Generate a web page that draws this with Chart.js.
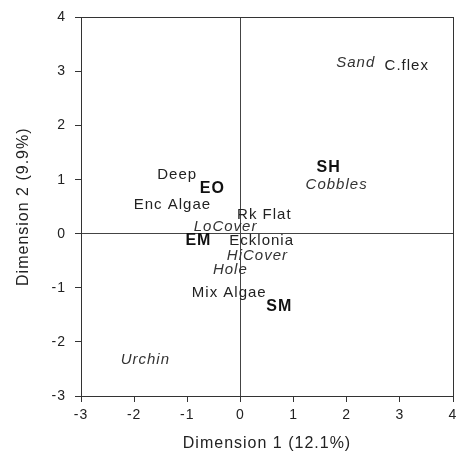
<!DOCTYPE html>
<html>
<head>
<meta charset="utf-8">
<script src="https://cdn.jsdelivr.net/npm/chart.js@4"></script>
<style>
  body { margin: 0; background: #fff; }
  #wrap { width: 457px; height: 455px; }
</style>
</head>
<body>
<div id="wrap"><canvas id="myChart" width="457" height="455"></canvas></div>
<script>
// sites (bold)
const siteLabels = ["EO", "EM", "SH", "SM"];
const siteX = [-0.53, -0.79, 1.66, 0.73];
const siteY = [0.83, -0.13, 1.23, -1.34];

// habitat variables (italic)
const habitatLabels = ["Sand", "Cobbles", "LoCover", "HiCover", "Hole", "Urchin"];
const habitatX = [2.17, 1.81, -0.28, 0.32, -0.19, -1.79];
const habitatY = [3.16, 0.90, 0.13, -0.40, -0.66, -2.33];

// other variables (plain)
const otherLabels = ["C.flex", "Deep", "Enc Algae", "Rk Flat", "Ecklonia", "Mix Algae"];
const otherX = [3.13, -1.19, -1.28, 0.45, 0.40, -0.21];
const otherY = [3.11, 1.08, 0.53, 0.35, -0.13, -1.10];

const axisMin = -3;
const axisMax = 4;

const FONT = "'Liberation Sans', Arial, Helvetica, sans-serif";
const INK = "#222";

const toPoints = (xs, ys) => xs.map((x, i) => ({ x: x, y: ys[i] }));

// draw each point as its text label
const textLabels = {
  id: "textLabels",
  afterDatasetsDraw(chart) {
    const ctx = chart.ctx;
    ctx.save();
    ctx.textAlign = "center";
    ctx.textBaseline = "middle";
    chart.data.datasets.forEach((ds, i) => {
      const meta = chart.getDatasetMeta(i);
      ctx.font = ds.labelFont;
      ctx.fillStyle = ds.labelColor;
      meta.data.forEach((pt, j) => {
        ctx.fillText(ds.names[j], pt.x, pt.y);
      });
    });
    ctx.restore();
  }
};

// frame around the plot and slightly wider lettering
const frame = {
  id: "frame",
  beforeDraw(chart) {
    chart.ctx.letterSpacing = "1px";
  },
  afterDraw(chart) {
    const a = chart.chartArea;
    const ctx = chart.ctx;
    ctx.save();
    ctx.strokeStyle = "#333";
    ctx.lineWidth = 1;
    ctx.strokeRect(Math.round(a.left) + 0.5, Math.round(a.top) + 0.5,
      Math.round(a.right - a.left), Math.round(a.bottom - a.top));
    ctx.restore();
  }
};

const axisGrid = {
  drawOnChartArea: true,
  drawTicks: true,
  tickLength: 6,
  tickColor: "#333",
  color: (c) => (c.tick && c.tick.value === 0 ? "#444" : "rgba(0,0,0,0)"),
  lineWidth: 1
};

const ctx = document.getElementById("myChart").getContext("2d");
const myChart = new Chart(ctx, {
  type: "scatter",
  data: {
    datasets: [
      {
        names: siteLabels,
        data: toPoints(siteX, siteY),
        labelFont: "bold 16px " + FONT,
        labelColor: "#111",
        pointRadius: 0
      },
      {
        names: habitatLabels,
        data: toPoints(habitatX, habitatY),
        labelFont: "italic 15px " + FONT,
        labelColor: "#333",
        pointRadius: 0
      },
      {
        names: otherLabels,
        data: toPoints(otherX, otherY),
        labelFont: "15px " + FONT,
        labelColor: INK,
        pointRadius: 0
      }
    ]
  },
  options: {
    responsive: false,
    animation: false,
    layout: { padding: { top: 16, right: 4, left: 0, bottom: 0 } },
    plugins: {
      legend: { display: false },
      tooltip: { enabled: false }
    },
    scales: {
      x: {
        type: "linear",
        min: axisMin,
        max: axisMax,
        ticks: { stepSize: 1, padding: 5, color: INK, font: { family: FONT, size: 14 } },
        grid: axisGrid,
        border: { display: true, color: "#333" },
        title: {
          display: true,
          text: "Dimension 1 (12.1%)",
          color: INK,
          font: { family: FONT, size: 16 },
          padding: { top: 0, bottom: 2 }
        },
        afterFit: (scale) => { scale.height = 59; scale.paddingRight = 0; }
      },
      y: {
        type: "linear",
        min: axisMin,
        max: axisMax,
        ticks: { stepSize: 1, padding: 9, color: INK, font: { family: FONT, size: 14 } },
        grid: axisGrid,
        border: { display: true, color: "#333" },
        title: {
          display: true,
          text: "Dimension 2 (9.9%)",
          color: INK,
          font: { family: FONT, size: 16 },
          padding: { top: 14, bottom: 0 }
        },
        afterFit: (scale) => { scale.width = 81; }
      }
    }
  },
  plugins: [textLabels, frame]
});
</script>
</body>
</html>
